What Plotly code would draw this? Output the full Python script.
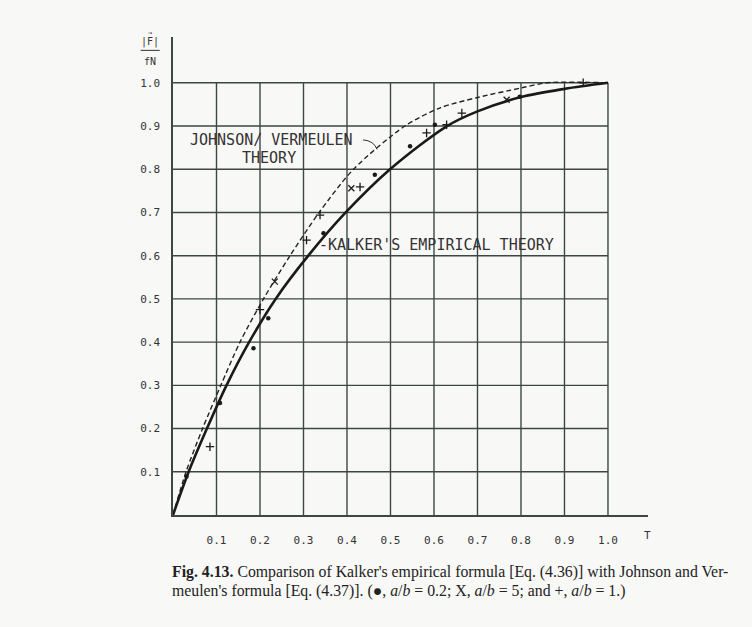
import plotly.graph_objects as go

# ---- data ----
T_kalker = [0, 0.036, 0.078, 0.123, 0.175, 0.236, 0.311, 0.397, 0.499, 0.63, 0.7, 0.8, 0.9, 1.0]
F_kalker = [0, 0.1, 0.2, 0.3, 0.4, 0.5, 0.6, 0.7, 0.8, 0.9, 0.934, 0.967, 0.986, 1.0]

T_jv = [0, 0.03, 0.068, 0.11, 0.154, 0.208, 0.269, 0.336, 0.415, 0.533, 0.614, 0.7, 0.8, 0.86, 1.0]
F_jv = [0, 0.1, 0.2, 0.3, 0.4, 0.5, 0.6, 0.7, 0.8, 0.9, 0.942, 0.966, 0.988, 1.0, 1.0]

T_dot = [0.031, 0.108, 0.185, 0.219, 0.346, 0.464, 0.545, 0.602, 0.797]
F_dot = [0.089, 0.259, 0.386, 0.455, 0.652, 0.787, 0.853, 0.903, 0.968]

T_x = [0.234, 0.41, 0.767]
F_x = [0.54, 0.756, 0.961]

T_plus = [0.085, 0.2, 0.307, 0.338, 0.43, 0.583, 0.629, 0.664, 0.943]
F_plus = [0.158, 0.475, 0.636, 0.694, 0.759, 0.884, 0.903, 0.93, 1.0]

grid_vals = [0.1, 0.2, 0.3, 0.4, 0.5, 0.6, 0.7, 0.8, 0.9, 1.0]
tick_text = ["0.1", "0.2", "0.3", "0.4", "0.5", "0.6", "0.7", "0.8", "0.9", "1.0"]

INK = "#1a1a1a"
GRID = "#3c4744"
MONO = "DejaVu Sans Mono"
BG = "#f8f8f6"

fig = go.Figure()

fig.add_trace(go.Scatter(x=T_jv, y=F_jv, mode="lines",
                         line=dict(color="#222", width=1.4, dash="5px,3px", shape="spline", smoothing=0.8),
                         name="Johnson/Vermeulen", hoverinfo="skip"))
fig.add_trace(go.Scatter(x=T_kalker, y=F_kalker, mode="lines",
                         line=dict(color=INK, width=2.6, shape="spline", smoothing=0.9),
                         name="Kalker", hoverinfo="skip"))
fig.add_trace(go.Scatter(x=T_dot, y=F_dot, mode="markers",
                         marker=dict(symbol="circle", size=4.5, color=INK), name="a/b=0.2"))
fig.add_trace(go.Scatter(x=T_x, y=F_x, mode="markers",
                         marker=dict(symbol="x-thin-open", size=6, color=INK, line=dict(color=INK, width=1.3)),
                         name="a/b=5"))
fig.add_trace(go.Scatter(x=T_plus, y=F_plus, mode="markers",
                         marker=dict(symbol="cross-thin-open", size=6, color=INK, line=dict(color=INK, width=1.3)),
                         name="a/b=1"))

shapes = []
for v in grid_vals:
    shapes.append(dict(type="line", xref="x", yref="y", x0=v, x1=v, y0=0, y1=1.0,
                       line=dict(color=GRID, width=1.4), layer="below"))
    shapes.append(dict(type="line", xref="x", yref="y", x0=0, x1=1.0, y0=v, y1=v,
                       line=dict(color=GRID, width=1.4), layer="below"))
# leader for Johnson/Vermeulen label
shapes.append(dict(type="path", xref="x", yref="y",
                   path="M 0.437 0.868 Q 0.462 0.866 0.469 0.846",
                   line=dict(color="#333", width=1)))
# fraction bar of axis title
shapes.append(dict(type="line", xref="paper", yref="paper", x0=-0.068, x1=-0.028, y0=0.972, y1=0.972,
                   line=dict(color="#333", width=1)))

LBL = dict(family=MONO, size=15, color="#333")
annotations = [
    dict(x=0.0345, y=0.868, xref="x", yref="y", text="JOHNSON/ VERMEULEN", showarrow=False,
         xanchor="left", yanchor="middle", font=LBL),
    dict(x=0.154, y=0.826, xref="x", yref="y", text="THEORY", showarrow=False,
         xanchor="left", yanchor="middle", font=LBL),
    dict(x=0.33, y=0.625, xref="x", yref="y", text="-KALKER'S EMPIRICAL THEORY", showarrow=False,
         xanchor="left", yanchor="middle", font=LBL),
    dict(x=1.09, y=-0.043, xref="x", yref="paper", text="T", showarrow=False,
         xanchor="center", yanchor="middle", font=dict(family=MONO, size=11, color="#333")),
    dict(x=-0.048, y=0.99, xref="paper", yref="paper", text="|F|", showarrow=False,
         xanchor="center", yanchor="middle", font=dict(family=MONO, size=10, color="#333")),
    dict(x=-0.048, y=1.009, xref="paper", yref="paper", text="\u2192", showarrow=False,
         xanchor="center", yanchor="middle", font=dict(family=MONO, size=7, color="#333")),
    dict(x=-0.048, y=0.948, xref="paper", yref="paper", text="fN", showarrow=False,
         xanchor="center", yanchor="middle", font=dict(family=MONO, size=10, color="#333")),
    dict(x=-0.0063, y=-0.119, xref="paper", yref="paper",
         text="<b>Fig. 4.13.</b> Comparison of Kalker's empirical formula [Eq. (4.36)] with Johnson and Ver-",
         showarrow=False, xanchor="left", yanchor="middle",
         font=dict(family="Liberation Serif", size=15.8, color="#222")),
    dict(x=-0.0063, y=-0.159, xref="paper", yref="paper",
         text="meulen's formula [Eq. (4.37)]. (\u25cf, <i>a</i>/<i>b</i> = 0.2; X, <i>a</i>/<i>b</i> = 5; and +, <i>a</i>/<i>b</i> = 1.)",
         showarrow=False, xanchor="left", yanchor="middle",
         font=dict(family="Liberation Serif", size=15.8, color="#222")),
]

fig.update_layout(
    width=752, height=627,
    margin=dict(l=173, r=104, t=37, b=112),
    paper_bgcolor=BG, plot_bgcolor=BG,
    showlegend=False,
    shapes=shapes, annotations=annotations,
    xaxis=dict(range=[0, 1.092], showgrid=False, zeroline=False, showline=True,
               linecolor=GRID, linewidth=1.5, tickvals=grid_vals, ticktext=tick_text,
               ticks="", ticklabelstandoff=14,
               tickfont=dict(family=MONO, size=11, color="#333"), fixedrange=True),
    yaxis=dict(range=[0, 1.106], showgrid=False, zeroline=False, showline=True,
               linecolor=GRID, linewidth=1.5, tickvals=grid_vals, ticktext=tick_text,
               ticks="", ticklabelstandoff=9,
               tickfont=dict(family=MONO, size=11, color="#333"), fixedrange=True),
)

fig.write_html("out.html")
